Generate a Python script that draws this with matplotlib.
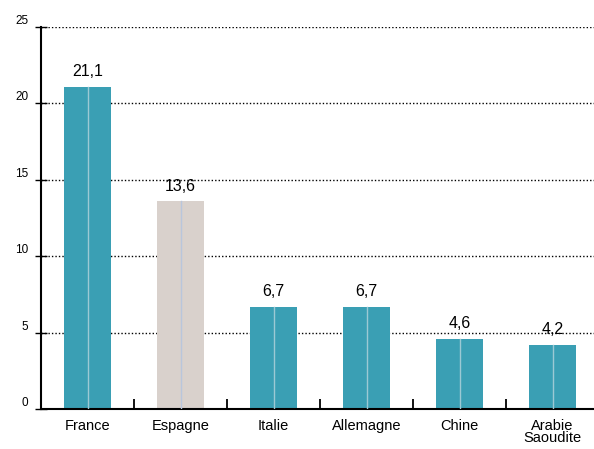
import matplotlib
matplotlib.use("Agg")
import matplotlib.pyplot as plt
from matplotlib.ticker import FixedLocator

categories = ["France", "Espagne", "Italie", "Allemagne", "Chine", "Arabie\nSaoudite"]
values = [21.1, 13.6, 6.7, 6.7, 4.6, 4.2]
value_labels = ["21,1", "13,6", "6,7", "6,7", "4,6", "4,2"]
y_ticks = [0, 5, 10, 15, 20, 25]

teal = "#3a9fb4"
beige = "#d9d1cc"
colors = [teal, beige, teal, teal, teal, teal]

plt.rcParams['font.family'] = ['Liberation Sans', 'DejaVu Sans']

fig = plt.figure(figsize=(5.94, 4.49), dpi=100)
ax = fig.add_axes([41/594, 40/449, 558/594, 382/449])

x = list(range(len(categories)))
bars = ax.bar(x, values, width=0.5, color=colors, zorder=2, linewidth=0)
# light central stripe in each bar
for xi, v, c in zip(x, values, colors):
    ax.plot([xi, xi], [0, v], color="#9cc9d4" if c == teal else "#b9c6dc",
            linewidth=1, zorder=3)

for xi, v, lab in zip(x, values, value_labels):
    ax.text(xi, v + 0.5, lab, ha="center", va="bottom", fontsize=11.5, color="black")

ax.set_xlim(-0.5, len(categories) - 0.5)
ax.set_ylim(0, 25)
ax.set_yticks(y_ticks)
ax.set_yticklabels([str(t) for t in y_ticks], fontsize=8.5)
for tick in ax.yaxis.get_major_ticks():
    tick.label1.set_verticalalignment("bottom")
ax.yaxis.grid(True, linestyle=(0, (1, 1.5)), color="black", linewidth=1, zorder=1)

ax.set_xticks(x)
ax.set_xticklabels(categories, fontsize=10.5, linespacing=0.85)
ax.tick_params(axis="x", length=0, pad=7)
ax.xaxis.set_minor_locator(FixedLocator([i + 0.5 for i in range(len(categories) - 1)]))
ax.tick_params(axis="x", which="minor", direction="in", length=7, width=1.3, color="black")
ax.tick_params(axis="y", direction="inout", length=8, width=1, pad=5)

for s in ["top", "right"]:
    ax.spines[s].set_visible(False)
ax.spines["left"].set_linewidth(1.5)
ax.spines["bottom"].set_linewidth(1.5)
ax.set_axisbelow(True)

fig.savefig("out.png", dpi=100)
